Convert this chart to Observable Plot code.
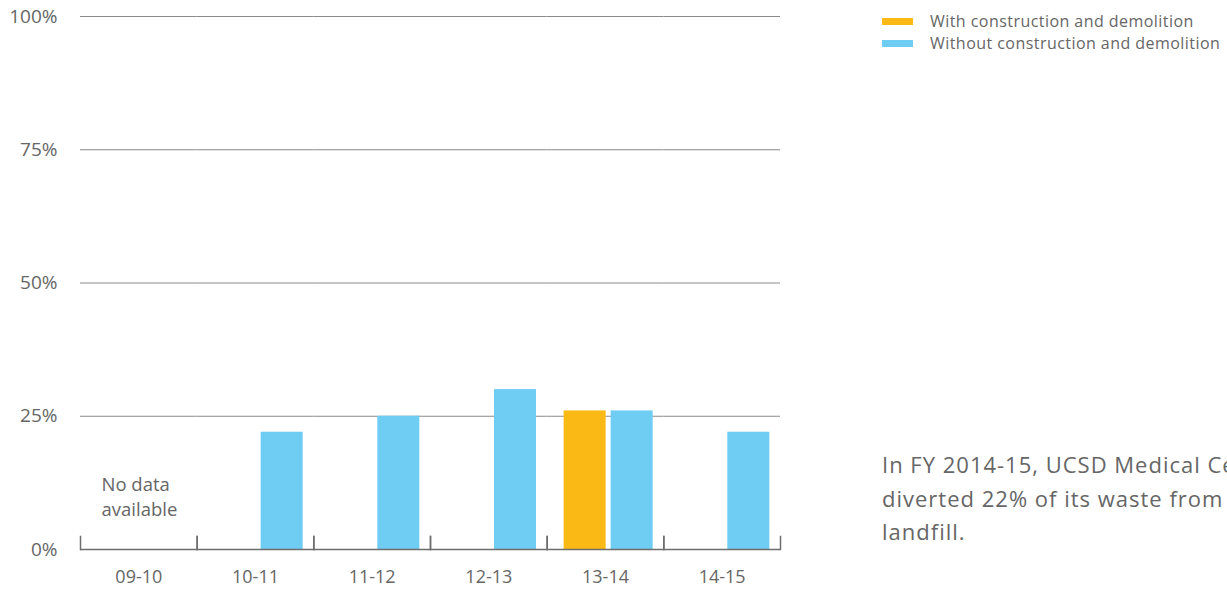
<!DOCTYPE html>
<html>
<head>
<meta charset="utf-8">
<script src="https://cdn.jsdelivr.net/npm/d3@7"></script>
<script src="https://cdn.jsdelivr.net/npm/@observablehq/plot@0.6"></script>
<style>
  html, body { margin: 0; padding: 0; background: #fff; width: 1227px; height: 589px; overflow: hidden; }
  body { position: relative; font-family: "Open Sans", sans-serif; color: #666; }
  #chart { position: absolute; left: 0; top: 0; }
  #legend { position: absolute; left: 882px; top: 10px; font-size: 16px; line-height: 22px; letter-spacing: 0.45px; }
  #legend .row { display: flex; align-items: center; white-space: nowrap; }
  #legend .sw { width: 31px; height: 7px; margin-right: 17px; }
  #note { position: absolute; left: 882px; top: 448px; font-size: 22px; line-height: 33.5px; letter-spacing: 1px; white-space: nowrap; }
</style>
</head>
<body>
<div id="chart"></div>
<div id="legend"></div>
<div id="note"></div>
<script>
const years = ["09-10", "10-11", "11-12", "12-13", "13-14", "14-15"];
const seriesNames = ["With construction and demolition", "Without construction and demolition"];
const seriesColors = ["#fbb915", "#6fcdf4"];
const withCD = [null, null, null, null, 26, null];
const withoutCD = [null, 22, 25, 30, 26, 22];
const yTicks = [0, 25, 50, 75, 100];
const gridValues = [25, 50, 75, 100];
const noDataLabel = "No data\navailable";
const noDataYear = "09-10";
const noteLines = ["In FY 2014-15, UCSD Medical Center", "diverted 22% of its waste from", "landfill."];

const data = [];
years.forEach((yr, i) => {
  if (withCD[i] != null) data.push({year: yr, series: seriesNames[0], value: withCD[i]});
  if (withoutCD[i] != null) data.push({year: yr, series: seriesNames[1], value: withoutCD[i]});
});

const axisColor = "#6e6e6e";
const W = 800, H = 589, mTop = 16, mBottom = 40;

const chart = Plot.plot({
  width: W,
  height: H,
  marginLeft: 80,
  marginRight: 20,
  marginTop: mTop,
  marginBottom: mBottom,
  style: {fontFamily: "Open Sans, sans-serif", fontSize: "16px", color: "#666", background: "transparent"},
  fx: {domain: years, padding: 0, round: false, label: null, axis: null},
  x: {domain: seriesNames, paddingInner: 0.106, paddingOuter: 0.294, align: 0.614, round: false, axis: null},
  y: {domain: [0, 100], axis: null},
  color: {domain: seriesNames, range: seriesColors},
  marks: [
    Plot.ruleY(gridValues, {stroke: "#8a8a8a", strokeWidth: 1}),
    Plot.axisY({ticks: yTicks, tickSize: 0, tickPadding: 23, tickFormat: d => d + "%", fill: "#666", fontSize: 19, label: null}),
    Plot.axisFx({domain: years, anchor: "bottom", tickSize: 0, tickPadding: 21, fill: "#666", fontSize: 18, label: null}),
    Plot.barY(data, {fx: "year", x: "series", y: "value", fill: "series"}),
    Plot.ruleY([0], {stroke: axisColor, strokeWidth: 1.5}),
    Plot.frame({anchor: "left", stroke: axisColor, strokeWidth: 1.5, insetTop: H - mTop - mBottom - 13}),
    Plot.frame({anchor: "right", stroke: axisColor, strokeWidth: 1.5, insetTop: H - mTop - mBottom - 13}),
    Plot.text([noDataLabel], {fx: () => noDataYear, text: d => d, frameAnchor: "bottom-left", textAnchor: "start", lineAnchor: "middle", dx: 21, dy: -54, fill: "#666", fontSize: 18.5, lineHeight: 1.35})
  ]
});
document.getElementById("chart").appendChild(chart);

const legend = document.getElementById("legend");
seriesNames.forEach((name, i) => {
  const row = document.createElement("div");
  row.className = "row";
  const sw = document.createElement("span");
  sw.className = "sw";
  sw.style.background = seriesColors[i];
  const t = document.createElement("span");
  t.textContent = name;
  row.appendChild(sw);
  row.appendChild(t);
  legend.appendChild(row);
});

const note = document.getElementById("note");
noteLines.forEach(l => {
  const d = document.createElement("div");
  d.textContent = l;
  note.appendChild(d);
});
</script>
</body>
</html>
